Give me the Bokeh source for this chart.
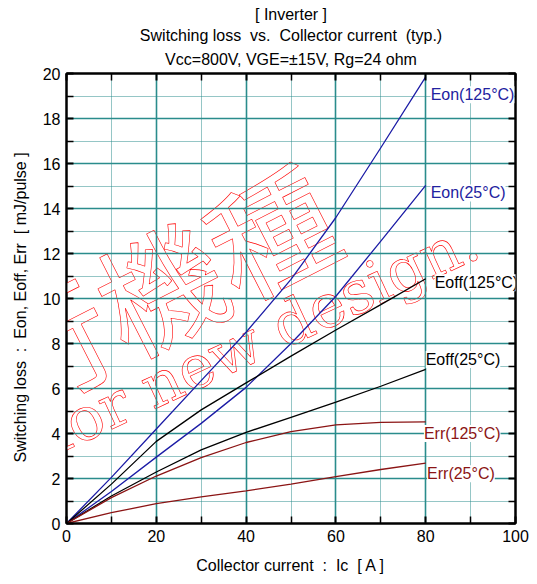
import math
from bokeh.plotting import figure
from bokeh.models import Range1d, LinearAxis, FixedTicker, Label, Title
from bokeh.embed import file_html
from bokeh.resources import INLINE

# ---- data ----
ic = [0, 10, 20, 30, 40, 50, 60, 70, 80]
eon_125 = [0, 2.05, 4.2, 6.35, 8.5, 10.85, 13.6, 16.7, 19.85]
eon_25 = [0, 1.42, 2.95, 4.45, 6.05, 8.0, 10.1, 12.55, 15.03]
eoff_125 = [0, 1.75, 3.65, 5.05, 6.25, 7.44, 8.6, 9.73, 10.88]
eoff_25 = [0, 1.22, 2.29, 3.27, 4.05, 4.72, 5.39, 6.1, 6.85]
err_125 = [0, 1.15, 2.11, 2.93, 3.6, 4.08, 4.38, 4.49, 4.52]
err_25 = [0, 0.48, 0.88, 1.18, 1.45, 1.75, 2.08, 2.4, 2.68]

x_ticks = [0, 20, 40, 60, 80, 100]
x_minor = [10, 30, 50, 70, 90]
y_ticks = [0, 2, 4, 6, 8, 10, 12, 14, 16, 18, 20]
y_minor = [1, 3, 5, 7, 9, 11, 13, 15, 17, 19]

S2 = " \u00a0"  # wide (double) space as in the reference
title_lines = ["[ Inverter ]",
               "Switching loss" + S2 + "vs." + S2 + "Collector current" + S2 + "(typ.)",
               "Vcc=800V, VGE=\u00b115V, Rg=24 ohm"]
x_label = "Collector current" + S2 + ":" + S2 + "Ic" + S2 + "[ A ]"
y_label = ("Switching loss" + S2 + ":" + S2 + "Eon, Eoff, Err" + S2 + "[ mJ/pulse ]"
           + "\u00a0" * 4)

FONT = "Liberation Sans"
BLUE = "#1c1ca6"
BLUE_T = "#2222a0"
RED = "#8b1414"
TEAL = "#2a8c8c"

p = figure(width=537, height=584, x_range=Range1d(0, 100), y_range=Range1d(0, 20),
           output_backend="svg", toolbar_location=None, title=None,
           min_border_left=66, min_border_right=22, min_border_top=73, min_border_bottom=61)
p.background_fill_color = "white"
p.border_fill_color = "white"
p.outline_line_color = "black"
p.outline_line_width = 2

xt = FixedTicker(ticks=x_ticks, minor_ticks=x_minor)
yt = FixedTicker(ticks=y_ticks, minor_ticks=y_minor)

p.add_layout(LinearAxis(), "right")
p.add_layout(LinearAxis(), "above")

for ax in p.xaxis:
    ax.ticker = xt
for ax in p.yaxis:
    ax.ticker = yt
for ax in p.axis:
    ax.axis_line_color = "black"
    ax.axis_line_width = 2
    ax.major_tick_in = 7
    ax.major_tick_out = 0
    ax.minor_tick_in = 7
    ax.minor_tick_out = 0
    ax.major_tick_line_width = 2
    ax.minor_tick_line_width = 1.5
    ax.major_tick_line_color = "black"
    ax.minor_tick_line_color = "black"
    ax.major_label_text_font = FONT
    ax.major_label_text_font_size = "16px"
    ax.major_label_text_color = "black"
    ax.major_label_standoff = 6
    ax.axis_label_text_font = FONT
    ax.axis_label_text_font_size = "16px"
    ax.axis_label_text_font_style = "normal"
    ax.axis_label_text_color = "black"

for ax in p.right + p.above:
    ax.major_label_text_font_size = "0px"
    ax.major_label_standoff = 0

p.below[0].axis_label = x_label
p.below[0].axis_label_standoff = 12
p.left[0].axis_label = y_label
p.left[0].axis_label_standoff = 11

p.xgrid.ticker = xt
p.ygrid.ticker = yt
for g in (p.xgrid, p.ygrid):
    g.grid_line_color = TEAL
    g.grid_line_width = 1.6
    g.minor_grid_line_color = TEAL
    g.minor_grid_line_width = 1
    g.minor_grid_line_dash = "1 1"

# titles (first added sits closest to the plot)
for t, so in zip(reversed(title_lines), [11, 0, 3]):
    p.add_layout(Title(text=t, align="center", text_font=FONT, text_font_size="16px",
                       text_font_style="normal", text_color="black", standoff=so), "above")

series = [(eon_125, BLUE), (eon_25, BLUE), (eoff_125, "black"), (eoff_25, "black"),
          (err_125, RED), (err_25, RED)]
for ys, c in series:
    p.line(ic, ys, line_color=c, line_width=1.3)

# watermark (thin red outlined text, drawn beneath grid and curves)
def px2d(px, py):
    return (px - 66) / 4.49, (523 - py) / 22.45

wm_style = dict(text_color="white", text_outline_color="red", level="image",
                border_line_color="white", border_line_alpha=0.002, border_line_width=0.6)

a1 = 27.0
chars = "\u79fb\u884c\u6a5f\u7a2e"
cx, cy = 268, 228
for i, ch in enumerate(reversed(chars)):
    px = cx - i * 124 * math.cos(math.radians(a1))
    py = cy + i * 124 * math.sin(math.radians(a1))
    x, y = px2d(px, py)
    p.add_layout(Label(x=x, y=y, text=ch, text_font="Noto Sans CJK JP", text_font_size="124px",
                       text_align="center", text_baseline="middle",
                       angle=a1, angle_units="deg", **wm_style))
x, y = px2d(474, 237)
p.add_layout(Label(x=x, y=y, text="Not recommended for new design.", text_font="DejaVu Serif",
                   text_font_size="60px", text_align="right", text_baseline="alphabetic",
                   angle=25, angle_units="deg", **wm_style))

curve_labels = [
    ("Eon(125\u00b0C)", 81.1, 19.06, BLUE_T),
    ("Eon(25\u00b0C)", 81.1, 14.69, BLUE_T),
    ("Eoff(125\u00b0C)", 82.0, 10.7, "black"),
    ("Eoff(25\u00b0C)", 80.0, 7.29, "black"),
    ("Err(125\u00b0C)", 79.6, 4.0, RED),
    ("Err(25\u00b0C)", 80.3, 2.21, RED),
]
for t, x, y, c in curve_labels:
    p.add_layout(Label(x=x, y=y, text=t, text_color=c, text_font=FONT, text_font_size="16px",
                       text_align="left", text_baseline="middle",
                       background_fill_color="white"))

open("out.html", "w").write(file_html(p, INLINE))
